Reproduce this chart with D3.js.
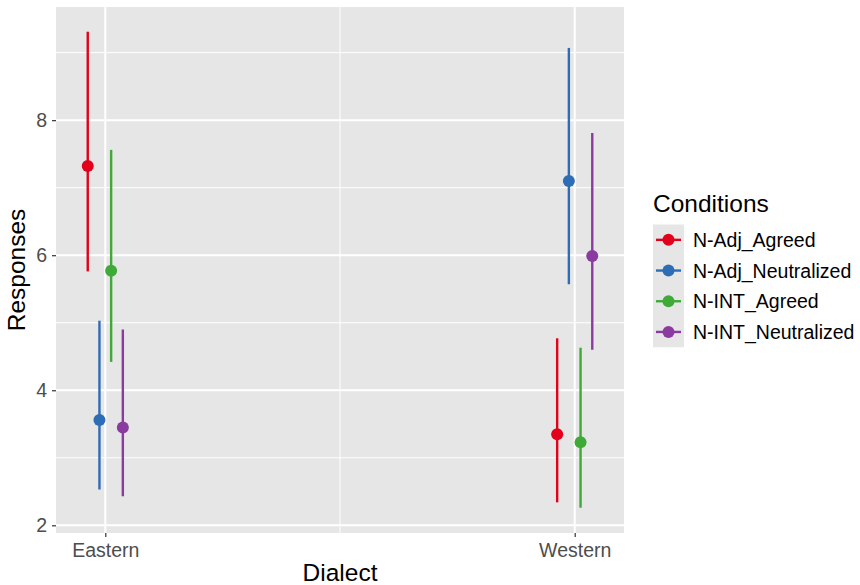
<!DOCTYPE html>
<html>
<head>
<meta charset="utf-8">
<script src="https://cdn.jsdelivr.net/npm/d3@7"></script>
<style>
  html, body { margin: 0; padding: 0; background: #fff; }
  svg { display: block; font-family: "Liberation Sans", Arial, Helvetica, sans-serif; }
</style>
</head>
<body>
<svg id="chart" width="860" height="585"></svg>
<script>
// Dialect groups on the x axis
const dialects = ["Eastern", "Western"];
// Experimental conditions (dodged within each dialect)
const conditions = ["N-Adj_Agreed", "N-Adj_Neutralized", "N-INT_Agreed", "N-INT_Neutralized"];
const conditionColors = ["#E3001B", "#2D6DB5", "#3FAA38", "#8B3A9F"];

// Mean responses per condition, ordered as [Eastern, Western]
const meanNAdjAgreed       = [7.32, 3.35];
const meanNAdjNeutralized  = [3.56, 7.10];
const meanNIntAgreed       = [5.77, 3.23];
const meanNIntNeutralized  = [3.45, 5.99];

// Interval lower bounds
const lowNAdjAgreed        = [5.76, 2.34];
const lowNAdjNeutralized   = [2.53, 5.57];
const lowNIntAgreed        = [4.42, 2.26];
const lowNIntNeutralized   = [2.43, 4.60];

// Interval upper bounds
const highNAdjAgreed       = [9.31, 4.77];
const highNAdjNeutralized  = [5.03, 9.07];
const highNIntAgreed       = [7.56, 4.63];
const highNIntNeutralized  = [4.90, 7.81];

// Axis ticks
const yMajorTicks = [2, 4, 6, 8];
const yMinorTicks = [3, 5, 7, 9];

const means = [meanNAdjAgreed, meanNAdjNeutralized, meanNIntAgreed, meanNIntNeutralized];
const lows  = [lowNAdjAgreed, lowNAdjNeutralized, lowNIntAgreed, lowNIntNeutralized];
const highs = [highNAdjAgreed, highNAdjNeutralized, highNIntAgreed, highNIntNeutralized];

const rows = [];
conditions.forEach((c, ci) => {
  dialects.forEach((d, di) => {
    rows.push({ dialect: d, condition: c, mean: means[ci][di], low: lows[ci][di], high: highs[ci][di] });
  });
});

const svg = d3.select("#chart");
const panel = { left: 56, right: 624, top: 7, bottom: 533 };
const panelFill = "#E6E6E6";
const tickFont = 19.5, titleFont = 24.5;

const x = d3.scalePoint().domain(dialects).range([panel.left, panel.right]).padding(0.105);
const dodge = d3.scaleBand().domain(conditions).range([-23.4, 23.4]);
const y = d3.scaleLinear().domain([1.886, 9.676]).range([panel.bottom, panel.top]);
const color = d3.scaleOrdinal().domain(conditions).range(conditionColors);

// Panel background
svg.append("rect")
  .attr("x", panel.left).attr("y", panel.top)
  .attr("width", panel.right - panel.left).attr("height", panel.bottom - panel.top)
  .attr("fill", panelFill);

// Grid lines
const grid = svg.append("g");
grid.selectAll("line.minor").data(yMinorTicks).join("line")
  .attr("x1", panel.left).attr("x2", panel.right)
  .attr("y1", d => y(d)).attr("y2", d => y(d))
  .attr("stroke", "#fff").attr("stroke-width", 1);
grid.selectAll("line.major").data(yMajorTicks).join("line")
  .attr("x1", panel.left).attr("x2", panel.right)
  .attr("y1", d => y(d)).attr("y2", d => y(d))
  .attr("stroke", "#fff").attr("stroke-width", 2);
grid.append("line")
  .attr("x1", (x("Eastern") + x("Western")) / 2).attr("x2", (x("Eastern") + x("Western")) / 2)
  .attr("y1", panel.top).attr("y2", panel.bottom)
  .attr("stroke", "#fff").attr("stroke-width", 1);
grid.selectAll("line.vmajor").data(dialects).join("line")
  .attr("x1", d => x(d)).attr("x2", d => x(d))
  .attr("y1", panel.top).attr("y2", panel.bottom)
  .attr("stroke", "#fff").attr("stroke-width", 2);

// Y axis
const yAxis = d3.axisLeft(y).tickValues(yMajorTicks).tickSize(4).tickPadding(5).tickFormat(d3.format("d"));
const gy = svg.append("g").attr("transform", `translate(${panel.left},0)`).call(yAxis);
gy.select(".domain").remove();
gy.selectAll(".tick line").attr("stroke", "#333").attr("stroke-width", 1.2);
gy.selectAll(".tick text").attr("fill", "#4D4D4D").attr("font-size", tickFont).attr("font-family", "Liberation Sans, Arial, sans-serif");

// X axis
const xAxis = d3.axisBottom(x).tickSize(4).tickPadding(6);
const gx = svg.append("g").attr("transform", `translate(0,${panel.bottom})`).call(xAxis);
gx.select(".domain").remove();
gx.selectAll(".tick line").attr("stroke", "#333").attr("stroke-width", 1.2);
gx.selectAll(".tick text").attr("fill", "#4D4D4D").attr("font-size", tickFont).attr("font-family", "Liberation Sans, Arial, sans-serif");

// Axis titles
svg.append("text")
  .attr("x", (panel.left + panel.right) / 2).attr("y", 581)
  .attr("text-anchor", "middle").attr("font-size", titleFont).attr("fill", "#000")
  .text("Dialect");
svg.append("text")
  .attr("transform", `translate(25,${(panel.top + panel.bottom) / 2}) rotate(-90)`)
  .attr("text-anchor", "middle").attr("font-size", titleFont).attr("fill", "#000")
  .text("Responses");

// Interval bars and mean points
const marks = svg.append("g");
marks.selectAll("line.range").data(rows).join("line")
  .attr("x1", d => x(d.dialect) + dodge(d.condition) + dodge.bandwidth() / 2)
  .attr("x2", d => x(d.dialect) + dodge(d.condition) + dodge.bandwidth() / 2)
  .attr("y1", d => y(d.low)).attr("y2", d => y(d.high))
  .attr("stroke", d => color(d.condition)).attr("stroke-width", 2.4);
marks.selectAll("circle.mean").data(rows).join("circle")
  .attr("cx", d => x(d.dialect) + dodge(d.condition) + dodge.bandwidth() / 2)
  .attr("cy", d => y(d.mean)).attr("r", 6)
  .attr("fill", d => color(d.condition));

// Legend
const legend = svg.append("g").attr("transform", "translate(653,0)");
legend.append("text").attr("x", 0).attr("y", 212).attr("font-size", titleFont).attr("fill", "#000").text("Conditions");
const keyH = 30.7, keyTop = 224.5;
legend.append("rect").attr("x", 0).attr("y", keyTop).attr("width", 31).attr("height", keyH * conditions.length).attr("fill", panelFill);
const items = legend.selectAll("g.item").data(conditions).join("g")
  .attr("transform", (d, i) => `translate(0,${keyTop + keyH * i + keyH / 2})`);
items.append("line").attr("x1", 3).attr("x2", 28).attr("y1", 0).attr("y2", 0)
  .attr("stroke", d => color(d)).attr("stroke-width", 2.4);
items.append("circle").attr("cx", 15.5).attr("cy", 0).attr("r", 6).attr("fill", d => color(d));
items.append("text").attr("x", 40).attr("y", 0).attr("dy", "0.36em")
  .attr("font-size", tickFont).attr("fill", "#000").text(d => d);
</script>
</body>
</html>
